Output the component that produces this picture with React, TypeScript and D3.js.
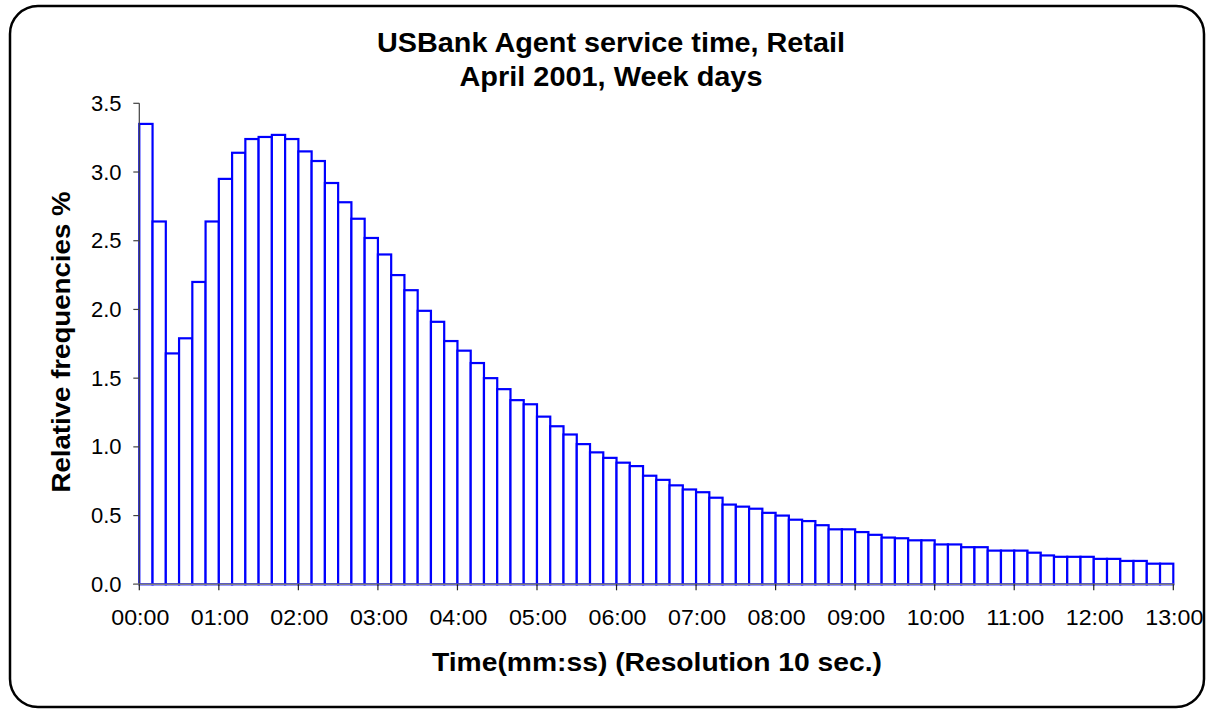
import React from "react";
import * as d3 from "d3";

// relative frequencies (%) per 10-second bin, 00:00 .. 13:00
const freq: number[] = [
  3.35, 2.64, 1.68, 1.79, 2.2, 2.64, 2.95, 3.14, 3.24, 3.255, 3.27, 3.24,
  3.15, 3.08, 2.92, 2.78, 2.66, 2.52, 2.4, 2.25, 2.14, 1.99, 1.91, 1.77,
  1.7, 1.61, 1.5, 1.42, 1.34, 1.31, 1.22, 1.15, 1.09, 1.02, 0.96, 0.92,
  0.885, 0.86, 0.79, 0.76, 0.72, 0.69, 0.67, 0.63, 0.58, 0.565, 0.55, 0.52,
  0.5, 0.47, 0.46, 0.43, 0.4, 0.4, 0.38, 0.36, 0.34, 0.335, 0.32, 0.32,
  0.29, 0.29, 0.27, 0.27, 0.245, 0.245, 0.245, 0.23, 0.21, 0.2, 0.2, 0.2,
  0.185, 0.185, 0.17, 0.17, 0.15, 0.15,
];

const binSeconds = 10;
const xTickMinutes: number[] = d3.range(0, 14);
const xTickLabels: string[] = xTickMinutes.map((m) => `${String(m).padStart(2, "0")}:00`);
const yTicks: number[] = [0, 0.5, 1, 1.5, 2, 2.5, 3, 3.5];

const titleLines: string[] = ["USBank Agent service time, Retail", "April 2001, Week days"];
const xLabel = "Time(mm:ss) (Resolution 10 sec.)";
const yLabel = "Relative frequencies %";

const W = 1210;
const H = 710;
const plot = { left: 139.3, right: 1173.3, top: 103.3, bottom: 584.3 };
const font = "Arial, 'Liberation Sans', Helvetica, sans-serif";

export default function App() {
  const x = d3.scaleLinear().domain([0, 13 * 60]).range([plot.left, plot.right]);
  const y = d3.scaleLinear().domain([0, 3.5]).range([plot.bottom, plot.top]);

  return (
    <svg
      width={W}
      height={H}
      style={{ position: "absolute", left: 0, top: 0, background: "#fff" }}
      fontFamily={font}
    >
      {/* chart frame */}
      <rect x={10} y={6} width={1194} height={701} rx={28} ry={28}
        fill="#fff" stroke="#000" strokeWidth={2.5} />

      {/* title */}
      <text x={611} y={52} textAnchor="middle" fontSize={27} fontWeight="bold"
        textLength={468} lengthAdjust="spacingAndGlyphs">{titleLines[0]}</text>
      <text x={611} y={86} textAnchor="middle" fontSize={27} fontWeight="bold"
        textLength={303} lengthAdjust="spacingAndGlyphs">{titleLines[1]}</text>

      {/* bars */}
      <g>
        {freq.map((v, i) => (
          <rect key={i}
            x={x(i * binSeconds)}
            y={y(v)}
            width={x((i + 1) * binSeconds) - x(i * binSeconds)}
            height={y(0) - y(v)}
            fill="#fff" stroke="#0000ff" strokeWidth={2.2} />
        ))}
      </g>

      {/* y axis */}
      <line x1={plot.left} x2={plot.left} y1={plot.top} y2={plot.bottom} stroke="#404040" strokeWidth={1.2} />
      {yTicks.map((t) => (
        <g key={t}>
          <line x1={plot.left - 6} x2={plot.left} y1={y(t)} y2={y(t)} stroke="#404040" strokeWidth={1.2} />
          <text x={121.5} y={y(t) + 7.5} textAnchor="end" fontSize={22}>{d3.format(".1f")(t)}</text>
        </g>
      ))}

      {/* x axis */}
      <line x1={plot.left - 6} x2={plot.right + 1} y1={plot.bottom} y2={plot.bottom} stroke="#808080" strokeWidth={1.5} />
      {xTickMinutes.map((m, i) => (
        <g key={m}>
          <line x1={x(m * 60)} x2={x(m * 60)} y1={plot.bottom} y2={plot.bottom + 6} stroke="#202020" strokeWidth={1.2} />
          <text x={x(m * 60) + 1} y={625} textAnchor="middle" fontSize={22}
            textLength={58} lengthAdjust="spacingAndGlyphs">{xTickLabels[i]}</text>
        </g>
      ))}

      {/* axis titles */}
      <text x={657} y={671} textAnchor="middle" fontSize={25} fontWeight="bold"
        textLength={450} lengthAdjust="spacingAndGlyphs">{xLabel}</text>
      <text transform="translate(69.5,342) rotate(-90)" textAnchor="middle" fontSize={25} fontWeight="bold"
        textLength={301} lengthAdjust="spacingAndGlyphs">{yLabel}</text>
    </svg>
  );
}
